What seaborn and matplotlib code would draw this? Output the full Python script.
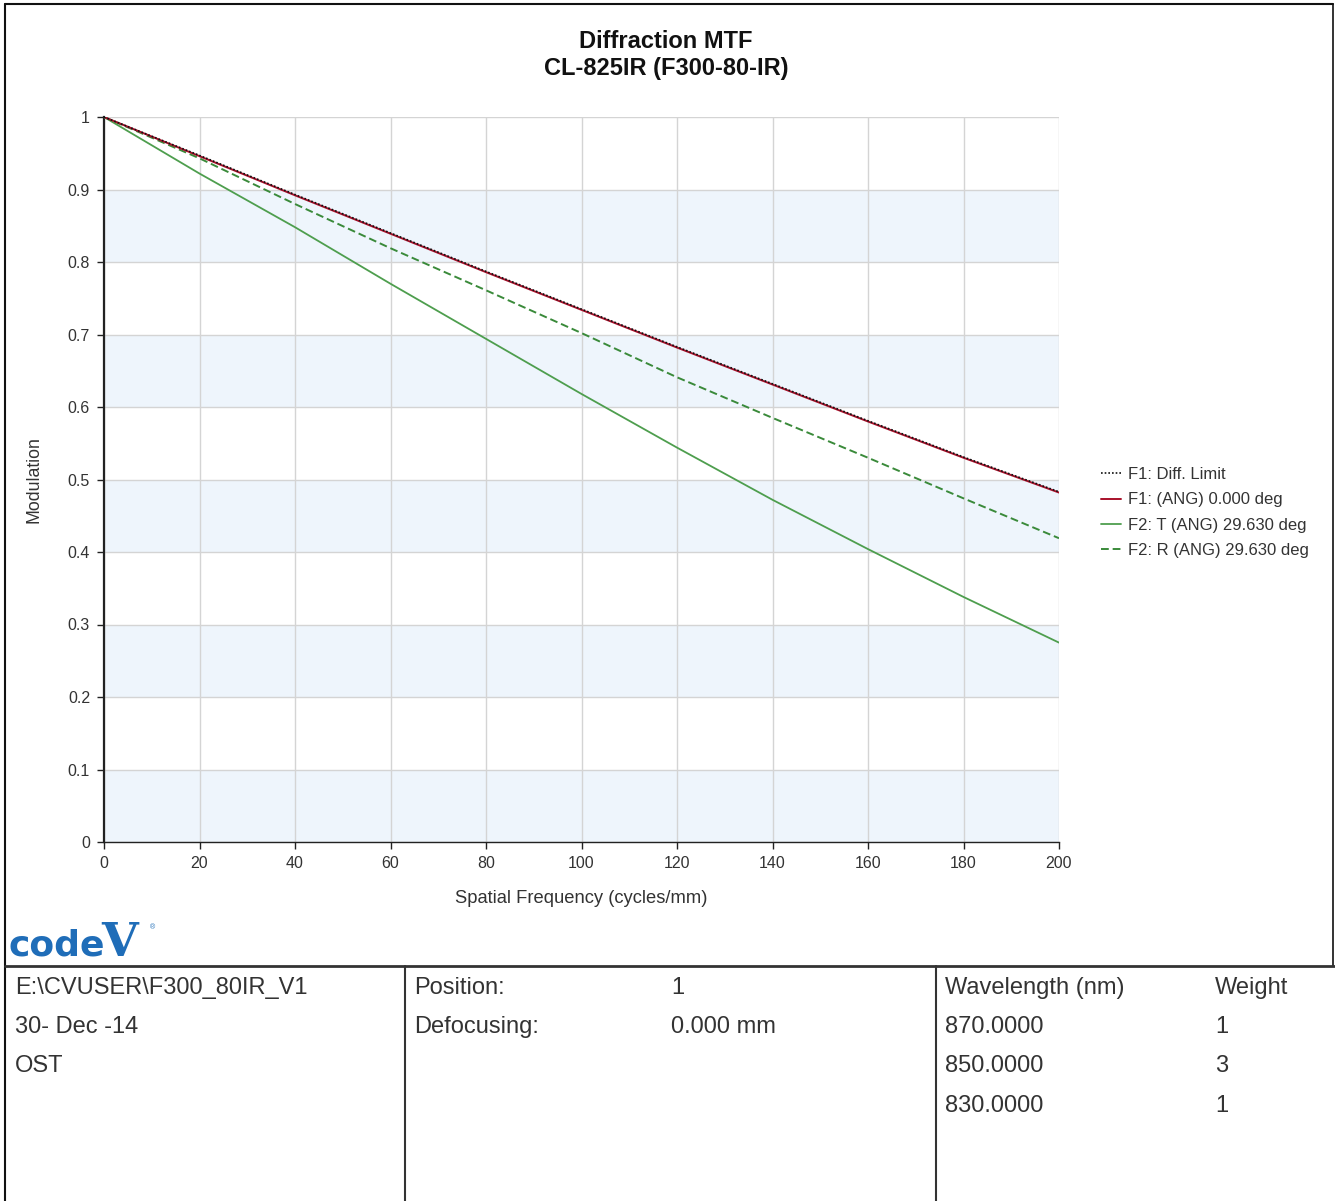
import numpy as np
import pandas as pd
import matplotlib
matplotlib.use("Agg")
import matplotlib.pyplot as plt
from matplotlib.lines import Line2D
import seaborn as sns

# Veri
freq = [0, 20, 40, 60, 80, 100, 120, 140, 160, 180, 200]
diff_limit = [1.0, 0.947, 0.893, 0.840, 0.787, 0.735, 0.683, 0.632, 0.581, 0.531, 0.483]
f1_ang0 = [1.0, 0.946, 0.892, 0.839, 0.786, 0.734, 0.682, 0.631, 0.580, 0.530, 0.482]
f2_t = [1.0, 0.922, 0.848, 0.770, 0.694, 0.618, 0.544, 0.472, 0.404, 0.338, 0.275]
f2_r = [1.0, 0.943, 0.880, 0.819, 0.761, 0.702, 0.641, 0.585, 0.530, 0.474, 0.419]

series_names = ["F1: Diff. Limit", "F1: (ANG) 0.000 deg",
                "F2: T (ANG) 29.630 deg", "F2: R (ANG) 29.630 deg"]

x_ticks = [0, 20, 40, 60, 80, 100, 120, 140, 160, 180, 200]
y_ticks = [0, 0.1, 0.2, 0.3, 0.4, 0.5, 0.6, 0.7, 0.8, 0.9, 1.0]
y_tick_labels = ["0", "0.1", "0.2", "0.3", "0.4", "0.5", "0.6", "0.7", "0.8", "0.9", "1"]

# Alt tablo
info_col1 = ["E:\\CVUSER\\F300_80IR_V1", "30- Dec -14", "OST"]
info_labels = ["Position:", "Defocusing:"]
info_values = ["1", "0.000 mm"]
wl_header = ["Wavelength (nm)", "Weight"]
wavelengths = ["870.0000", "850.0000", "830.0000"]
weights = ["1", "3", "1"]

sns.set_theme(style="white")
plt.rcParams['font.family'] = ['Liberation Sans', 'DejaVu Sans']

W, H = 1335, 1201
fig = plt.figure(figsize=(W / 100, H / 100), dpi=100)
fig.patch.set_facecolor("white")


def fx(px):
    return px / W


def fy(py):
    return 1 - py / H


ax = fig.add_axes([fx(104), fy(842), fx(1059) - fx(104), fy(117) - fy(842)])

# Arka plan bantları
for lo in [0.0, 0.2, 0.4, 0.6, 0.8]:
    ax.axhspan(lo, lo + 0.1, color="#EEF5FC", zorder=0, lw=0)

df = pd.DataFrame({
    "freq": freq * 4,
    "mtf": diff_limit + f1_ang0 + f2_t + f2_r,
    "series": sum([[n] * len(freq) for n in series_names], []),
})

styles = {
    series_names[0]: dict(color="#111111", ls=(0, (1, 1.2)), lw=1.2, z=5),
    series_names[1]: dict(color="#A8102A", ls="-", lw=1.4, z=4),
    series_names[2]: dict(color="#4E9E4E", ls="-", lw=1.3, z=3),
    series_names[3]: dict(color="#3A8A3A", ls=(0, (4, 2)), lw=1.4, z=3),
}

for name in series_names:
    st = styles[name]
    sub = df[df["series"] == name]
    sns.lineplot(data=sub, x="freq", y="mtf", ax=ax, color=st["color"],
                 linestyle=st["ls"], linewidth=st["lw"], zorder=st["z"],
                 label=name, legend=False)

ax.set_xlim(0, 200)
ax.set_ylim(0, 1)
ax.set_xticks(x_ticks)
ax.set_yticks(y_ticks)
ax.set_yticklabels(y_tick_labels)
ax.grid(True, color="#D4D4D4", lw=1, zorder=1)
ax.set_axisbelow(True)
for s in ["top", "right"]:
    ax.spines[s].set_visible(False)
ax.spines["left"].set_color("#222222")
ax.spines["left"].set_linewidth(1.6)
ax.spines["bottom"].set_color("#222222")
ax.spines["bottom"].set_linewidth(1.0)
ax.tick_params(axis="both", direction="out", length=5, width=1, color="#222222",
               labelsize=11.5, labelcolor="#333333", bottom=True, left=True, pad=5)
ax.set_xlabel("Spatial Frequency (cycles/mm)", fontsize=13.2, color="#333333", labelpad=14)
ax.set_ylabel("Modulation", fontsize=12.8, color="#333333", labelpad=18)
ax.set_facecolor("white")

# Lejant
handles = [Line2D([0], [0], color=styles[n]["color"], ls=styles[n]["ls"],
                  lw=styles[n]["lw"]) for n in series_names]
fig.legend(handles, series_names, loc="upper left",
           bbox_to_anchor=(fx(1086), fy(452)), frameon=False, fontsize=12,
           handlelength=1.2, handletextpad=0.4, labelspacing=0.62,
           labelcolor="#333333")

# Başlık
fig.text(fx(666), fy(42), "Diffraction MTF", ha="center", va="center",
         fontsize=17, fontweight="bold", color="#111111")
fig.text(fx(666), fy(69), "CL-825IR (F300-80-IR)", ha="center", va="center",
         fontsize=17, fontweight="bold", color="#111111")

# Logo
fig.text(fx(9), fy(956), "code", ha="left", va="baseline", fontsize=26,
         fontweight="bold", color="#1F6DB8", family="DejaVu Sans")
fig.text(fx(101), fy(956), "V", ha="left", va="baseline", fontsize=34,
         fontweight="bold", color="#1F6DB8", family="DejaVu Serif")
fig.text(fx(150), fy(928), "\u00ae", ha="left", va="center", fontsize=5,
         color="#1F6DB8")

# Çerçeve ve tablo çizgileri
border = "#333333"
fig.add_artist(Line2D([fx(5), fx(5)], [fy(4), 0], color="#111111", lw=1.5))
fig.add_artist(Line2D([fx(5), fx(1333)], [fy(4), fy(4)], color="#111111", lw=1.5))
fig.add_artist(Line2D([fx(1333), fx(1333)], [fy(4), fy(966)], color="#111111", lw=1.2))
fig.add_artist(Line2D([fx(5), 1], [fy(966), fy(966)], color=border, lw=2))
fig.add_artist(Line2D([fx(405), fx(405)], [fy(966), 0], color=border, lw=1.5))
fig.add_artist(Line2D([fx(936), fx(936)], [fy(966), 0], color=border, lw=1.5))

row_y = [988, 1027, 1066, 1106]
tkw = dict(ha="left", va="center", fontsize=17, color="#333333")
for i, t in enumerate(info_col1):
    fig.text(fx(15), fy(row_y[i]), t, **tkw)
for i, (lab, val) in enumerate(zip(info_labels, info_values)):
    fig.text(fx(414), fy(row_y[i]), lab, **tkw)
    fig.text(fx(671), fy(row_y[i]), val, **tkw)
fig.text(fx(945), fy(row_y[0]), wl_header[0], **tkw)
fig.text(fx(1215), fy(row_y[0]), wl_header[1], **tkw)
for i, (wl, wt) in enumerate(zip(wavelengths, weights)):
    fig.text(fx(945), fy(row_y[i + 1]), wl, **tkw)
    fig.text(fx(1215), fy(row_y[i + 1]), wt, **tkw)

fig.savefig("out.png", dpi=100, facecolor="white")
plt.close(fig)
